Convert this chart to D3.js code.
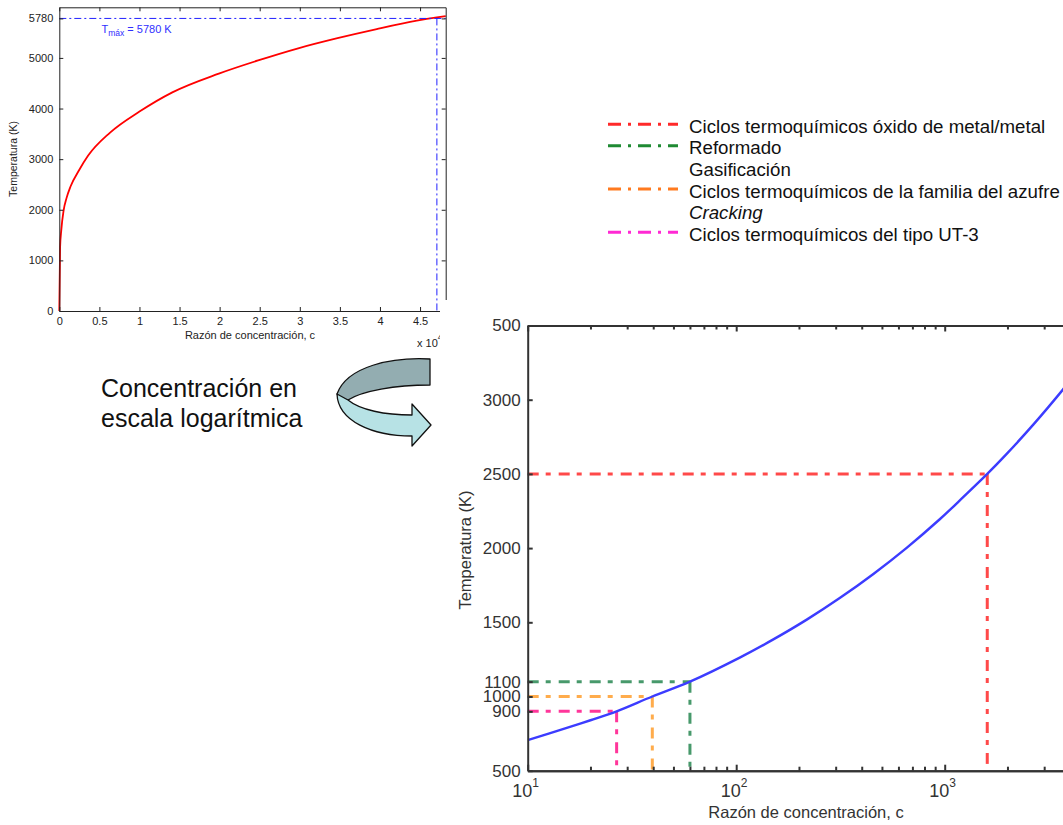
<!DOCTYPE html>
<html>
<head>
<meta charset="utf-8">
<script src="https://cdnjs.cloudflare.com/ajax/libs/d3/7.8.5/d3.min.js"></script>
<style>
  html, body { margin: 0; padding: 0; background: #fff; overflow: hidden; }
  svg { display: block; font-family: "Liberation Sans", Arial, sans-serif; }
</style>
</head>
<body>
<svg id="fig" width="1063" height="825"></svg>
<script>
// linear-scale chart (top left)
const linConc = [0, 100, 250, 530, 900, 1400, 2500, 3600, 6300, 10000, 14100, 19900, 24800, 29800, 34700, 39600, 44600, 47100, 48200];
const linTemp = [0, 1260, 1600, 1980, 2230, 2460, 2790, 3070, 3520, 3940, 4320, 4690, 4950, 5190, 5390, 5570, 5735, 5800, 5825];
const linXTicks = [0, 5000, 10000, 15000, 20000, 25000, 30000, 35000, 40000, 45000];
const linYTicks = [0, 1000, 2000, 3000, 4000, 5000, 5780];
const tMax = 5780;
const tMaxConc = 47100;

// log-scale chart (bottom right)
const logConc = [10, 15, 20, 26.7, 39.6, 60, 104, 150, 218, 315, 455, 657, 950, 1230, 1600, 1983, 2660, 3690, 4200];
const logTemp = [706, 783, 840, 900, 1000, 1100, 1262, 1383, 1518, 1665, 1826, 2002, 2196, 2345, 2500, 2635, 2832, 3068, 3167];
const logXTicks = [10, 100, 1000, 10000];
const logYTicks = [500, 900, 1000, 1100, 1500, 2000, 2500, 3000, 3500];

// process thresholds: temperature and the concentration where the curve reaches it
const refTemp = [2500, 1100, 1000, 900];
const refConc = [1600, 60, 39.6, 26.7];
const refColors = ['#ff3030', '#2e8b57', '#ffa033', '#ff1a8c'];

const legendLabels = [
  'Ciclos termoquímicos óxido de metal/metal',
  'Reformado',
  'Gasificación',
  'Ciclos termoquímicos de la familia del azufre',
  'Cracking',
  'Ciclos termoquímicos del tipo UT-3'
];
const legendColors = ['#ff2a2a', '#1f8a33', null, '#ff7a1f', null, '#ff2ad4'];

const DASHDOT = '11,7,5,8';
const W = 1063;
const svg = d3.select('#fig');

function styleAxis(g, size, color, width) {
  g.attr('font-family', null).attr('font-size', size);
  g.selectAll('.domain').attr('stroke', color).attr('stroke-width', width);
  g.selectAll('.tick line').attr('stroke', color).attr('stroke-width', width);
  g.selectAll('.tick text').attr('fill', color);
}

// ---------- linear chart ----------
const lx = d3.scaleLinear().domain([0, 48200]).range([59.3, 445.7]);
const ly = d3.scaleLinear().domain([0, 6000]).range([311, 7.3]);
const lin = svg.append('g');

lin.append('path')
  .datum(linConc.map((c, i) => [c, linTemp[i]]))
  .attr('fill', 'none')
  .attr('stroke', '#ff0000')
  .attr('stroke-width', 1.8)
  .attr('d', d3.line().x(d => lx(d[0])).y(d => ly(d[1])).curve(d3.curveMonotoneX));

// T max guide lines
lin.append('line')
  .attr('x1', lx(0)).attr('x2', lx(48200))
  .attr('y1', ly(tMax)).attr('y2', ly(tMax))
  .attr('stroke', '#2020ff').attr('stroke-width', 1).attr('stroke-dasharray', '7,3,2,3');
lin.append('line')
  .attr('x1', lx(tMaxConc)).attr('x2', lx(tMaxConc))
  .attr('y1', ly(tMax)).attr('y2', ly(0))
  .attr('stroke', '#2020ff').attr('stroke-width', 1).attr('stroke-dasharray', '7,3,2,3');

const tLabel = lin.append('text')
  .attr('x', 101.5).attr('y', 33)
  .attr('font-size', 11).attr('fill', '#3030ff');
tLabel.append('tspan').text('T');
tLabel.append('tspan').attr('font-size', 8.5).attr('dy', 3).text('máx');
tLabel.append('tspan').attr('dy', -3).text(' = 5780 K');

lin.append('g').attr('transform', `translate(0,${ly(0)})`)
  .call(d3.axisBottom(lx).tickValues(linXTicks).tickSizeInner(-4).tickSizeOuter(0).tickPadding(6)
    .tickFormat(d => d / 1e4))
  .call(g => styleAxis(g, 11, '#222', 1));
lin.append('g').attr('transform', `translate(0,${ly(6000)})`)
  .call(d3.axisTop(lx).tickValues(linXTicks).tickSizeInner(-4).tickSizeOuter(0).tickFormat(() => ''))
  .call(g => styleAxis(g, 11, '#222', 1));
lin.append('g').attr('transform', `translate(${lx(0)},0)`)
  .call(d3.axisLeft(ly).tickValues(linYTicks).tickSizeInner(-4).tickSizeOuter(0).tickPadding(6)
    .tickFormat(d3.format('d')))
  .call(g => styleAxis(g, 11, '#222', 1));
lin.append('g').attr('transform', `translate(${lx(48200)},0)`)
  .call(d3.axisRight(ly).tickValues(linYTicks).tickSizeInner(-4).tickSizeOuter(0).tickFormat(() => ''))
  .call(g => styleAxis(g, 11, '#222', 1));

lin.append('text')
  .attr('x', 250).attr('y', 339).attr('text-anchor', 'middle')
  .attr('font-size', 11).attr('fill', '#222')
  .text('Razón de concentración, c');
const xMul = lin.append('text').attr('x', 417).attr('y', 347).attr('font-size', 11).attr('fill', '#222');
xMul.append('tspan').text('x 10');
xMul.append('tspan').attr('font-size', 9).attr('dy', -7).text('4');
lin.append('text')
  .attr('transform', 'translate(17,159) rotate(-90)')
  .attr('text-anchor', 'middle').attr('font-size', 10.5).attr('fill', '#222')
  .text('Temperatura (K)');

// ---------- caption and curved arrow ----------
svg.append('text').attr('x', 101).attr('y', 397).attr('font-size', 25).attr('fill', '#111')
  .text('Concentración en');
svg.append('text').attr('x', 101).attr('y', 427).attr('font-size', 25).attr('fill', '#111')
  .text('escala logarítmica');

const arrow = svg.append('g').attr('stroke', '#111').attr('stroke-width', 1.3).attr('stroke-linejoin', 'round');
arrow.append('path')
  .attr('fill', '#93adb1')
  .attr('d', 'M430,359 C392,357 347,366 337,394 C340,399 344,400 348,400 C362,391 395,385 430,385 Z');
arrow.append('path')
  .attr('fill', '#b7e2e5')
  .attr('d', 'M337,394 C338,421 372,436 412,436 L412,446 L431,425 L412,404 L412,415 C385,415 360,410 348,400 Z');

// ---------- legend ----------
const leg = svg.append('g');
legendLabels.forEach((label, i) => {
  const y = 132.7 + i * 21.6;
  if (legendColors[i]) {
    leg.append('line')
      .attr('x1', 608).attr('x2', 678).attr('y1', y - 8.5).attr('y2', y - 8.5)
      .attr('stroke', legendColors[i]).attr('stroke-width', 3)
      .attr('stroke-dasharray', '13,7,3,7');
  }
  leg.append('text')
    .attr('x', 689).attr('y', y)
    .attr('font-size', 18.7).attr('fill', '#111')
    .style('font-style', i === 4 ? 'italic' : null)
    .text(label);
});

// ---------- log chart ----------
const rx = d3.scaleLog().domain([10, 10000]).range([527.7, 1153.2]);
const ry = d3.scaleLinear().domain([500, 3500]).range([770.7, 325.5]);
const isMajor = d => Math.abs(Math.log10(d) - Math.round(Math.log10(d))) < 1e-6;
const minorTicks = rx.ticks().filter(d => !isMajor(d));

const lg = svg.append('g');
lg.append('clipPath').attr('id', 'logclip')
  .append('rect')
  .attr('x', rx.range()[0]).attr('y', ry.range()[1])
  .attr('width', rx.range()[1] - rx.range()[0]).attr('height', ry.range()[0] - ry.range()[1]);

refTemp.forEach((t, i) => {
  const c = refConc[i];
  lg.append('path')
    .attr('fill', 'none')
    .attr('stroke', refColors[i]).attr('stroke-width', 3).attr('stroke-opacity', 0.88)
    .attr('stroke-dasharray', DASHDOT)
    .attr('d', `M${rx(10)},${ry(t)}H${rx(c)}`);
  lg.append('path')
    .attr('fill', 'none')
    .attr('stroke', refColors[i]).attr('stroke-width', 3).attr('stroke-opacity', 0.88)
    .attr('stroke-dasharray', DASHDOT)
    .attr('d', `M${rx(c)},${ry(t)}V${ry(500)}`);
});

lg.append('path')
  .datum(logConc.map((c, i) => [c, logTemp[i]]))
  .attr('clip-path', 'url(#logclip)')
  .attr('fill', 'none')
  .attr('stroke', '#3c3cff').attr('stroke-width', 2.4)
  .attr('d', d3.line().x(d => rx(d[0])).y(d => ry(d[1])).curve(d3.curveCatmullRom.alpha(0.5)));

const AX = '#333';
lg.append('g').attr('transform', `translate(0,${ry(500)})`)
  .call(d3.axisBottom(rx).tickValues(minorTicks).tickSizeInner(-4).tickSizeOuter(0).tickFormat(() => ''))
  .call(g => styleAxis(g, 17, AX, 2));
lg.append('g').attr('transform', `translate(0,${ry(500)})`)
  .call(d3.axisBottom(rx).tickValues(logXTicks).tickSizeInner(-6).tickSizeOuter(0).tickFormat(() => ''))
  .call(g => styleAxis(g, 17, AX, 2));
lg.append('g').attr('transform', `translate(0,${ry(3500)})`)
  .call(d3.axisTop(rx).tickValues(minorTicks).tickSizeInner(-4).tickSizeOuter(0).tickFormat(() => ''))
  .call(g => styleAxis(g, 17, AX, 2));
lg.append('g').attr('transform', `translate(0,${ry(3500)})`)
  .call(d3.axisTop(rx).tickValues(logXTicks).tickSizeInner(-6).tickSizeOuter(0).tickFormat(() => ''))
  .call(g => styleAxis(g, 17, AX, 2));
lg.append('g').attr('transform', `translate(${rx(10)},0)`)
  .call(d3.axisLeft(ry).tickValues(logYTicks).tickSizeInner(-5).tickSizeOuter(0).tickPadding(7)
    .tickFormat(d3.format('d')))
  .call(g => styleAxis(g, 17, AX, 2));

// decade labels 10^n (only those inside the visible picture)
logXTicks.filter(d => rx(d) + 20 < W).forEach(d => {
  const t = lg.append('text')
    .attr('x', rx(d) - 2).attr('y', 797)
    .attr('text-anchor', 'middle').attr('font-size', 18).attr('fill', AX);
  t.append('tspan').text('10');
  t.append('tspan').attr('font-size', 12).attr('dy', -10).text(Math.round(Math.log10(d)));
});

lg.append('text')
  .attr('x', 806).attr('y', 818).attr('text-anchor', 'middle')
  .attr('font-size', 16.5).attr('fill', AX)
  .text('Razón de concentración, c');
lg.append('text')
  .attr('transform', 'translate(471,550) rotate(-90)')
  .attr('text-anchor', 'middle').attr('font-size', 16.5).attr('fill', AX)
  .text('Temperatura (K)');

// the pasted picture above overlaps the first digit of the top tick label
svg.append('rect').attr('x', 440).attr('y', 300).attr('width', 52).attr('height', 50).attr('fill', '#fff');
</script>
</body>
</html>
